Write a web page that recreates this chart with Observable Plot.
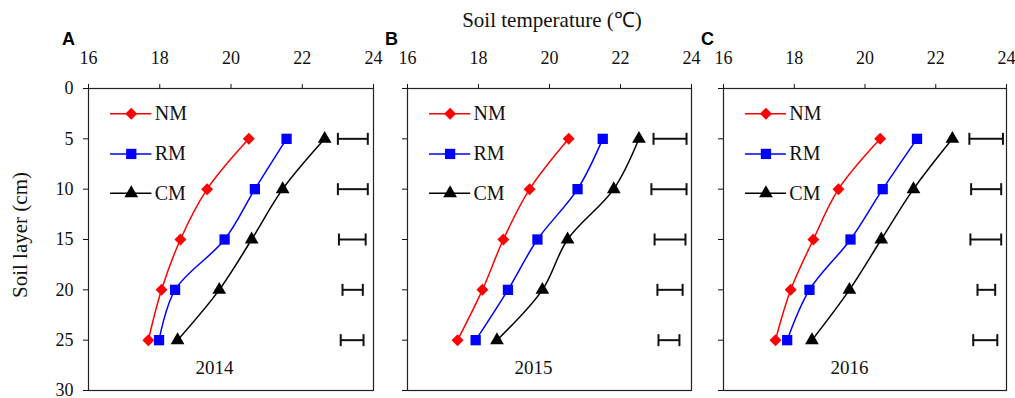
<!DOCTYPE html>
<html>
<head>
<meta charset="utf-8">
<script src="https://cdn.jsdelivr.net/npm/d3@7"></script>
<script src="https://cdn.jsdelivr.net/npm/@observablehq/plot@0.6"></script>
<style>
  html, body { margin: 0; padding: 0; background: #fff; }
  #wrap { position: relative; width: 1015px; height: 398px; overflow: hidden; font-family: "Liberation Serif", "Times New Roman", serif; color: #111; }
  .panel { position: absolute; top: 0; }
  .panel svg, .panel svg g, .panel svg text { font-family: "Liberation Serif", "Times New Roman", serif !important; }
  .panel svg [aria-label$="tick label"], .panel svg [aria-label$="tick label"] text { font-size: 18px !important; font-variant: normal !important; }
  .letter { position: absolute; top: 29px; font: bold 18px "Liberation Sans", Arial, sans-serif; color: #000; }
  #title { position: absolute; top: 5px; left: 402px; width: 300px; text-align: center; font-size: 21px; }
  #ylabel { position: absolute; left: 20px; top: 235px; transform: translate(-50%, -50%) rotate(-90deg); font-size: 21px; white-space: nowrap; }
</style>
</head>
<body>
<div id="wrap">
  <div id="title">Soil temperature (℃)</div>
  <div id="ylabel">Soil layer (cm)</div>
  <div class="letter" style="left:62px">A</div>
  <div class="letter" style="left:385px">B</div>
  <div class="letter" style="left:701px">C</div>
</div>
<script>
// ---- data ----
const depths = [5, 10, 15, 20, 25];
const years = ["2014", "2015", "2016"];
const seriesNames = ["NM", "RM", "CM"];
const xTicks = [16, 18, 20, 22, 24];
const yTicks = [0, 5, 10, 15, 20, 25, 30];

const nm2014 = [20.50, 19.33, 18.58, 18.05, 17.68];
const rm2014 = [21.56, 20.67, 19.82, 18.43, 17.98];
const cm2014 = [22.63, 21.45, 20.58, 19.67, 18.50];
const lsdLo2014 = [23.00, 23.00, 23.03, 23.13, 23.08];
const lsdHi2014 = [23.84, 23.84, 23.78, 23.70, 23.72];

const nm2015 = [20.54, 19.44, 18.70, 18.11, 17.41];
const rm2015 = [21.50, 20.79, 19.66, 18.83, 17.92];
const cm2015 = [22.52, 21.81, 20.51, 19.80, 18.52];
const lsdLo2015 = [22.93, 22.87, 22.96, 23.04, 23.07];
const lsdHi2015 = [23.86, 23.86, 23.83, 23.75, 23.66];

const nm2016 = [20.43, 19.25, 18.54, 17.90, 17.47];
const rm2016 = [21.47, 20.50, 19.59, 18.43, 17.80];
const cm2016 = [22.47, 21.37, 20.46, 19.56, 18.50];
const lsdLo2016 = [22.95, 23.00, 22.98, 23.18, 23.06];
const lsdHi2016 = [23.90, 23.85, 23.85, 23.68, 23.74];

// ---- styles ----
const colors = { NM: "#ff0000", RM: "#0000ff", CM: "#000000" };
const symbols = { NM: d3.symbolDiamond2, RM: "square", CM: "triangle" };
const radii = { NM: 5.4, RM: 5.8, CM: 5.1 };
// legend layout (in axis units)
const legendLine = [16.62, 17.78];
const legendMarker = 17.2;
const legendText = 17.86;
const legendRows = [2.5, 6.5, 10.4];

const capSymbol = {
  draw(ctx, size) {
    const h = Math.sqrt(size / Math.PI);
    ctx.moveTo(0, -h);
    ctx.lineTo(0, h);
  }
};

function panel(opts) {
  const { nm, rm, cm, lo, hi, year, width, ml, mr, showY } = opts;
  const vals = { NM: nm, RM: rm, CM: cm };
  const rows = [];
  for (const s of seriesNames) depths.forEach((d, i) => rows.push({ series: s, depth: d, temp: vals[s][i] }));
  const errs = depths.map((d, i) => ({ depth: d, lo: lo[i], hi: hi[i] }));

  const marks = [Plot.frame({ stroke: "#222", strokeWidth: 1.2 })];
  for (const s of seriesNames) {
    const data = rows.filter(r => r.series === s);
    marks.push(Plot.line(data, { x: "temp", y: "depth", stroke: colors[s], strokeWidth: 1.5, curve: "catmull-rom" }));
    marks.push(Plot.dot(data, { x: "temp", y: "depth", fill: colors[s], stroke: "none", symbol: symbols[s], r: radii[s] }));
  }
  marks.push(Plot.ruleY(errs, { y: "depth", x1: "lo", x2: "hi", stroke: "#111", strokeWidth: 2 }));
  marks.push(Plot.dot(errs, { x: "lo", y: "depth", symbol: capSymbol, r: 6, stroke: "#111", strokeWidth: 2 }));
  marks.push(Plot.dot(errs, { x: "hi", y: "depth", symbol: capSymbol, r: 6, stroke: "#111", strokeWidth: 2 }));

  seriesNames.forEach((s, i) => {
    const ly = legendRows[i];
    marks.push(Plot.ruleY([ly], { x1: legendLine[0], x2: legendLine[1], stroke: colors[s], strokeWidth: 1.5 }));
    marks.push(Plot.dot([ly], { x: legendMarker, y: d => d, fill: colors[s], stroke: "none", symbol: symbols[s], r: radii[s] }));
    marks.push(Plot.text([s], { x: legendText, y: ly, text: d => d, textAnchor: "start", fontSize: 20, fill: "#111" }));
  });

  marks.push(Plot.text([year], { text: d => d, frameAnchor: "bottom-left", textAnchor: "middle", dx: 126, dy: -17, fontSize: 19, fill: "#111" }));

  return Plot.plot({
    width, height: 398,
    marginTop: 88, marginBottom: 8, marginLeft: ml, marginRight: mr,
    style: { fontFamily: "'Liberation Serif', 'Times New Roman', serif", fontSize: "18px", color: "#111", background: "transparent", overflow: "visible" },
    x: { domain: [16, 24], axis: "top", ticks: xTicks, tickSize: 5, tickPadding: 20, label: null },
    y: { domain: [0, 30], reverse: true, ticks: yTicks, tickSize: 5, tickPadding: 10, label: null,
         tickFormat: showY ? (d => d) : (() => "") },
    marks
  });
}

const wrap = document.getElementById("wrap");
const configs = [
  { nm: nm2014, rm: rm2014, cm: cm2014, lo: lsdLo2014, hi: lsdHi2014, year: years[0], left: 0, width: 380, ml: 88, mr: 7, showY: true },
  { nm: nm2015, rm: rm2015, cm: cm2015, lo: lsdLo2015, hi: lsdHi2015, year: years[1], left: 380, width: 317, ml: 27, mr: 6, showY: false },
  { nm: nm2016, rm: rm2016, cm: cm2016, lo: lsdLo2016, hi: lsdHi2016, year: years[2], left: 697, width: 318, ml: 26, mr: 9, showY: false }
];
for (const c of configs) {
  const svg = panel(c);
  const div = document.createElement("div");
  div.className = "panel";
  div.style.left = c.left + "px";
  div.appendChild(svg);
  wrap.appendChild(div);
}
</script>
</body>
</html>
